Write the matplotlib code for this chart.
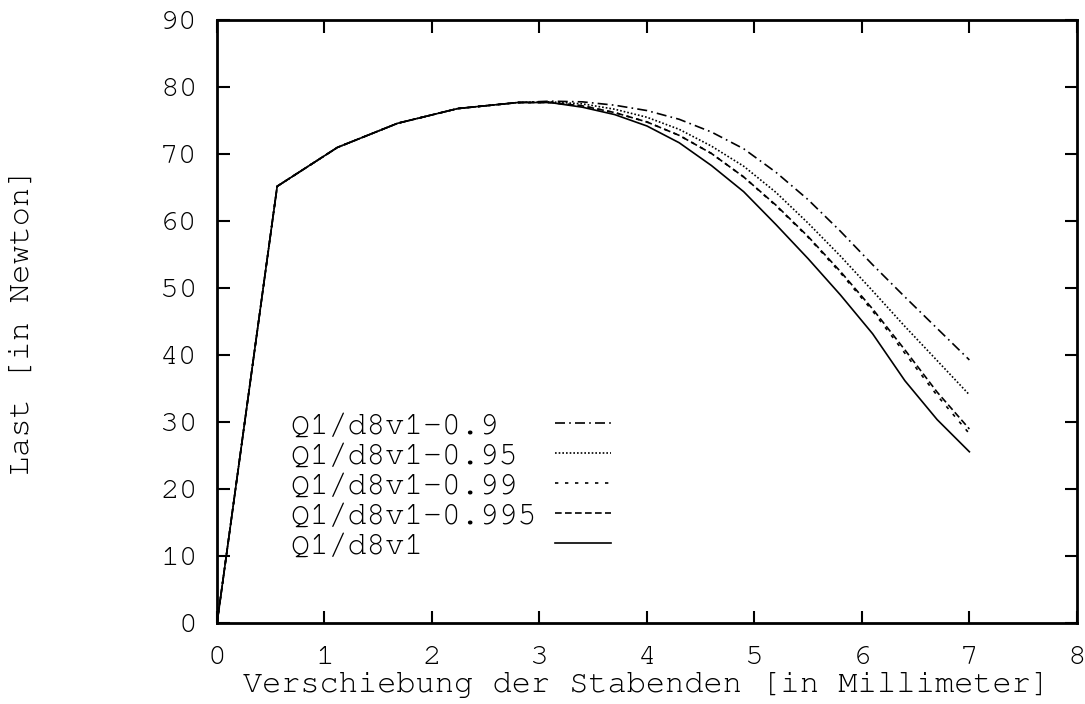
import numpy as np
import matplotlib
matplotlib.use("Agg")
import matplotlib.pyplot as plt

plt.rcParams['font.family'] = ['Nimbus Mono PS', 'FreeMono', 'Courier New',
                               'Liberation Mono', 'DejaVu Sans Mono']

# gemeinsamer Anfang aller Kurven
x_start = [0.0, 0.56, 1.12, 1.68, 2.24, 2.8]
y_start = [0.0, 65.2, 71.0, 74.6, 76.8, 77.7]

# Verlauf nach dem Maximum
x_end = [3.1, 3.4, 3.7, 4.0, 4.3, 4.6, 4.9, 5.2, 5.5, 5.8, 6.1, 6.4, 6.7, 7.0]
y_09 = [77.9, 77.8, 77.3, 76.5, 75.2, 73.3, 70.8, 67.3, 63.2, 58.5, 53.5, 48.7, 44.0, 39.3]
y_095 = [77.8, 77.5, 76.7, 75.5, 73.7, 71.2, 68.2, 64.3, 59.7, 54.8, 49.6, 44.3, 39.2, 34.1]
y_099 = [77.7, 77.2, 76.2, 74.8, 72.8, 70.1, 66.6, 62.3, 57.6, 52.3, 46.6, 40.3, 34.0, 28.3]
y_0995 = [77.7, 77.2, 76.2, 74.8, 72.8, 70.1, 66.6, 62.4, 57.7, 52.5, 46.9, 40.8, 34.5, 29.0]
y_1 = [77.7, 77.0, 75.9, 74.2, 71.7, 68.3, 64.4, 59.5, 54.4, 49.0, 43.2, 36.2, 30.4, 25.6]

labels = ["Q1/d8v1-0.9", "Q1/d8v1-0.95", "Q1/d8v1-0.99", "Q1/d8v1-0.995", "Q1/d8v1"]
styles = [(0, (6, 2.5, 1, 2.5)), (0, (1, 1.2)), (0, (2, 4)), (0, (4, 2)), '-']

fig = plt.figure(figsize=(10.85, 7.04), dpi=100)
ax = fig.add_axes([0.2, 0.1145, 0.7925, 0.857])

xs = x_start + x_end
width = max(len(l) for l in labels) + 1
for lab, ys, ls in zip(labels, [y_09, y_095, y_099, y_0995, y_1], styles):
    # Monospace: Text mit Leerzeichen auffuellen, damit er linksbuendig steht
    ax.plot(xs, y_start + ys, color='black', lw=1.2, linestyle=ls, label=lab.ljust(width))

ax.set_xlim(0, 8)
ax.set_ylim(0, 90)
ax.set_xticks(range(0, 9))
ax.set_yticks(range(0, 91, 10))
ax.tick_params(direction='in', length=9, width=1.5, top=True, right=True,
               labelsize=22.5)
ax.tick_params(axis='x', pad=16)
ax.tick_params(axis='y', pad=14)
for s in ax.spines.values():
    s.set_linewidth(2)

ax.set_xlabel("Verschiebung der Stabenden [in Millimeter]", fontsize=23, labelpad=2)
ax.set_ylabel("Last [in Newton]", fontsize=23, labelpad=90)

leg = ax.legend(loc='lower left', bbox_to_anchor=(0.086, 0.105), frameon=False,
                fontsize=22.7, markerfirst=False, handlelength=1.78,
                handletextpad=0.0, labelspacing=0.06, borderaxespad=0,
                borderpad=0)

fig.savefig("out.png", dpi=100)
